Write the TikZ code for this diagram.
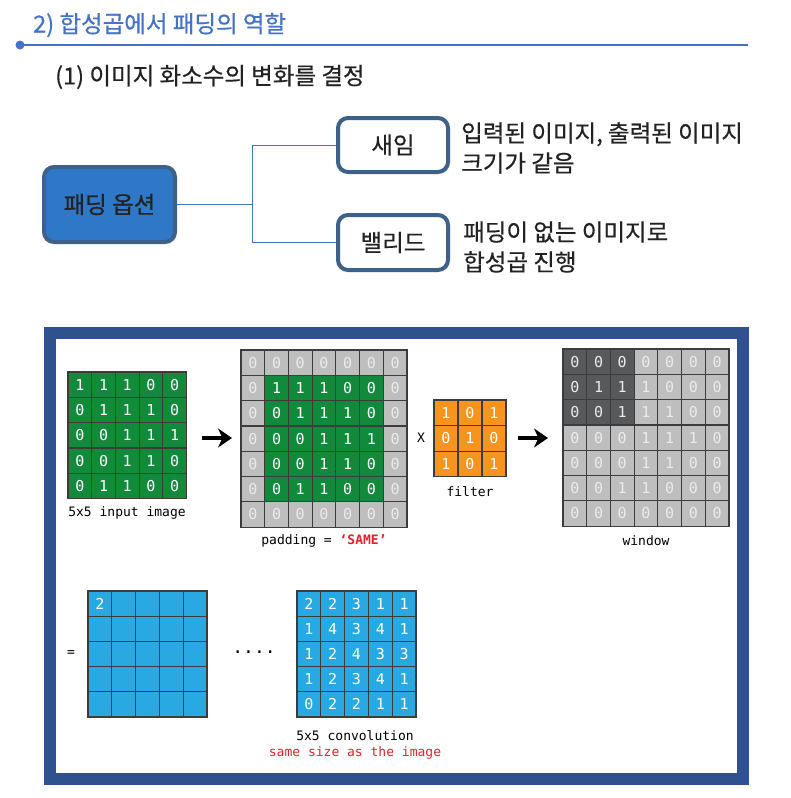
\documentclass[tikz,border=0pt]{standalone}
\usepackage{fontspec}
\setmainfont{Noto Sans CJK KR}[FakeBold=0.5]
\newfontfamily\monof{DejaVu Sans Mono}
\usetikzlibrary{arrows.meta}
\definecolor{hblue}{HTML}{4472C4}
\definecolor{boxedge}{HTML}{3D6189}
\definecolor{optblue}{HTML}{2E78C7}
\definecolor{textdark}{HTML}{222222}
\definecolor{frameblue}{HTML}{2F528F}
\definecolor{gridline}{HTML}{3C3C3C}
\definecolor{cgreen}{HTML}{128A3C}
\definecolor{cgray}{HTML}{BEBEBE}
\definecolor{cgraytxt}{HTML}{EBEBEB}
\definecolor{cdark}{HTML}{58595B}
\definecolor{corange}{HTML}{F7941E}
\definecolor{cblue}{HTML}{29A9E1}
\definecolor{redtxt}{HTML}{E8202A}
\tikzset{
  cellbase/.style={draw=gridline, line width=1.2pt, minimum width=23.7pt, minimum height=25.3pt,
    inner sep=0pt, outer sep=0pt, font=\monof\fontsize{15}{15}\selectfont},
  gcell/.style={cellbase, fill=cgreen, text=white},
  pcell/.style={cellbase, fill=cgray, text=cgraytxt},
  dcell/.style={cellbase, fill=cdark, text=cgraytxt},
  ocell/.style={cellbase, fill=corange, text=white, minimum width=24pt, minimum height=25.6pt},
  bcell/.style={cellbase, fill=cblue, text=white},
  kfont/.style={font=\fontsize{23.5}{27}\selectfont},
  optbox/.style={rounded corners=10pt, line width=4pt, draw=boxedge, inner sep=0pt,
    kfont, text=textdark},
  desc/.style={anchor=west, align=left, inner sep=0pt, font=\fontsize{23.5}{30}\selectfont, text=textdark},
  lab/.style={inner sep=0pt, font=\monof\fontsize{13}{13}\selectfont, text=black},
  conn/.style={hblue, line width=1pt},
  bigarrow/.style={black, line width=3.5pt, -{Stealth[length=14pt,width=19pt]}}
}
\begin{document}
\begin{tikzpicture}[x=1pt,y=-1pt]
\useasboundingbox[fill=white] (0,0) rectangle (790,798);

% header
\node[anchor=west, inner sep=0pt, text=hblue, kfont] (title) at (33,25) {2) 합성곱에서 패딩의 역할};
\node[circle, fill=hblue, inner sep=0pt, minimum size=9pt] (dot) at (20,45) {};
\coordinate (lineend) at (748,45);
\draw[hblue, line width=1.5pt] (dot.center) -- (lineend);
\node[anchor=west, inner sep=0pt, text=textdark, kfont] (sub) at (55,77) {(1) 이미지 화소수의 변화를 결정};

% option tree
\node[optbox, fill=optblue, minimum width=131pt, minimum height=75pt] (opt) at (109.5,204.5) {패딩 옵션};
\node[optbox, fill=white, minimum width=110pt, minimum height=54pt] (same) at (393,145) {새임};
\node[optbox, fill=white, minimum width=110pt, minimum height=55pt] (valid) at (393,242.5) {밸리드};
\coordinate (jx) at (252,0);
\draw[conn] (opt.east) -- (opt.east -| jx);
\draw[conn] (same.west) -- (same.west -| jx) -- (valid.west -| jx) -- (valid.west);
\node[desc] (samed) at (461,148) {입력된 이미지, 출력된 이미지\\크기가 같음};
\node[desc] (validd) at (463,247) {패딩이 없는 이미지로\\합성곱 진행};

% frame
\node[draw=frameblue, line width=12pt, minimum width=693pt, minimum height=446pt, inner sep=0pt] (frame) at (396.5,556) {};

% input image
\foreach \row [count=\r] in {{1,1,1,0,0},{0,1,1,1,0},{0,0,1,1,1},{0,0,1,1,0},{0,1,1,0,0}}{
  \foreach \v [count=\c] in \row {
    \node[gcell] (in-\r-\c) at ({68+(\c-0.5)*23.7},{372+(\r-0.5)*25.3}) {\v};
  }
}
\node[lab] (inlab) at (127,513) {5x5 input image};

% padded
\foreach \row [count=\r] in {{0,0,0,0,0,0,0},{0,1,1,1,0,0,0},{0,0,1,1,1,0,0},{0,0,0,1,1,1,0},{0,0,0,1,1,0,0},{0,0,1,1,0,0,0},{0,0,0,0,0,0,0}}{
  \foreach \v [count=\c] in \row {
    \pgfmathtruncatemacro\inn{and(and(\r>1,\r<7),and(\c>1,\c<7))}
    \ifnum\inn=1
      \node[gcell] (pad-\r-\c) at ({241+(\c-0.5)*23.7},{350+(\r-0.5)*25.3}) {\v};
    \else
      \node[pcell] (pad-\r-\c) at ({241+(\c-0.5)*23.7},{350+(\r-0.5)*25.3}) {\v};
    \fi
  }
}
\node[lab] (padlab) at (324,541) {padding = \textcolor{redtxt}{\bfseries ‘SAME’}};

% filter
\node[lab] (times) at (421,438) {X};
\foreach \row [count=\r] in {{1,0,1},{0,1,0},{1,0,1}}{
  \foreach \v [count=\c] in \row {
    \node[ocell] (f-\r-\c) at ({434+(\c-0.5)*24},{400+(\r-0.5)*25.6}) {\v};
  }
}
\node[lab] (filtlab) at (470,492) {filter};

% window
\foreach \row [count=\r] in {{0,0,0,0,0,0,0},{0,1,1,1,0,0,0},{0,0,1,1,1,0,0},{0,0,0,1,1,1,0},{0,0,0,1,1,0,0},{0,0,1,1,0,0,0},{0,0,0,0,0,0,0}}{
  \foreach \v [count=\c] in \row {
    \pgfmathtruncatemacro\inn{and(\r<4,\c<4)}
    \ifnum\inn=1
      \node[dcell] (w-\r-\c) at ({563+(\c-0.5)*23.7},{349+(\r-0.5)*25.3}) {\v};
    \else
      \node[pcell] (w-\r-\c) at ({563+(\c-0.5)*23.7},{349+(\r-0.5)*25.3}) {\v};
    \fi
  }
}
\node[lab] (winlab) at (646,541) {window};

% arrows
\coordinate (a1s) at (202,438);
\coordinate (a1e) at (232,438);
\draw[bigarrow] (a1s) -- (a1e);
\coordinate (a2s) at (518,438);
\coordinate (a2e) at (548,438);
\draw[bigarrow] (a2s) -- (a2e);

% result 1
\node[lab] (eq) at (71,654) {=};
\foreach \r in {1,...,5}{
  \foreach \c in {1,...,5}{
    \node[bcell] (b-\r-\c) at ({88+(\c-0.5)*23.8},{591+(\r-0.5)*25.2}) {\ifnum\r=1 \ifnum\c=1 2\fi\fi};
  }
}
\node[inner sep=0pt, font=\monof\fontsize{18}{18}\selectfont] (dots) at (254,652) {....};

% result 2
\foreach \row [count=\r] in {{2,2,3,1,1},{1,4,3,4,1},{1,2,4,3,3},{1,2,3,4,1},{0,2,2,1,1}}{
  \foreach \v [count=\c] in \row {
    \node[bcell] (c-\r-\c) at ({297+(\c-0.5)*23.8},{591+(\r-0.5)*25.2}) {\v};
  }
}
\node[lab] (convlab) at (355,736) {5x5 convolution};
\node[lab, text=redtxt] (samelab) at (355,753) {same size as the image};
\end{tikzpicture}
\end{document}
